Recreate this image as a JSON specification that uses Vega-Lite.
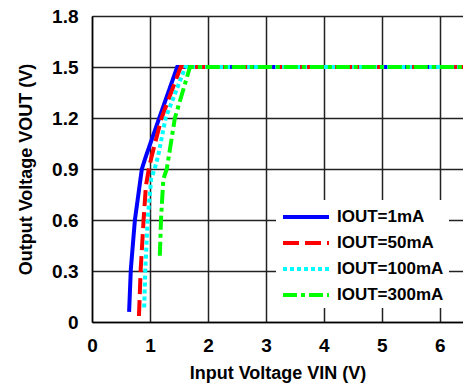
{
  "$schema": "https://vega.github.io/schema/vega-lite/v6.json",
  "width": 371,
  "height": 306,
  "autosize": {"type": "none"},
  "padding": {"left": 92, "top": 16, "right": 0, "bottom": 65},
  "background": "white",
  "config": {
    "view": {"stroke": null},
    "font": "Liberation Sans",
    "axis": {
      "labelFont": "Liberation Sans", "labelFontWeight": "bold", "labelFontSize": 19, "labelColor": "black",
      "titleFont": "Liberation Sans", "titleFontWeight": "bold", "titleFontSize": 18, "titleColor": "black",
      "grid": true, "gridColor": "#222", "gridWidth": 1.5, "gridOpacity": 1,
      "domainColor": "black", "domainWidth": 1.5, "ticks": false
    }
  },
  "data": {
    "values": [
      {"vin": 0.64, "vout": 0.06, "s": "IOUT=1mA"},
      {"vin": 0.67, "vout": 0.31, "s": "IOUT=1mA"},
      {"vin": 0.74, "vout": 0.60, "s": "IOUT=1mA"},
      {"vin": 0.82, "vout": 0.80, "s": "IOUT=1mA"},
      {"vin": 0.86, "vout": 0.90, "s": "IOUT=1mA"},
      {"vin": 0.93, "vout": 0.975, "s": "IOUT=1mA"},
      {"vin": 1.16, "vout": 1.20, "s": "IOUT=1mA"},
      {"vin": 1.47, "vout": 1.50, "s": "IOUT=1mA"},
      {"vin": 6.4, "vout": 1.50, "s": "IOUT=1mA"},
      {"vin": 0.81, "vout": 0.035, "s": "IOUT=50mA"},
      {"vin": 0.84, "vout": 0.31, "s": "IOUT=50mA"},
      {"vin": 0.89, "vout": 0.60, "s": "IOUT=50mA"},
      {"vin": 0.93, "vout": 0.80, "s": "IOUT=50mA"},
      {"vin": 0.98, "vout": 0.90, "s": "IOUT=50mA"},
      {"vin": 1.03, "vout": 0.975, "s": "IOUT=50mA"},
      {"vin": 1.20, "vout": 1.20, "s": "IOUT=50mA"},
      {"vin": 1.53, "vout": 1.50, "s": "IOUT=50mA"},
      {"vin": 6.4, "vout": 1.50, "s": "IOUT=50mA"},
      {"vin": 0.90, "vout": 0.085, "s": "IOUT=100mA"},
      {"vin": 0.92, "vout": 0.31, "s": "IOUT=100mA"},
      {"vin": 0.96, "vout": 0.60, "s": "IOUT=100mA"},
      {"vin": 1.02, "vout": 0.84, "s": "IOUT=100mA"},
      {"vin": 1.08, "vout": 0.90, "s": "IOUT=100mA"},
      {"vin": 1.14, "vout": 0.975, "s": "IOUT=100mA"},
      {"vin": 1.27, "vout": 1.20, "s": "IOUT=100mA"},
      {"vin": 1.61, "vout": 1.50, "s": "IOUT=100mA"},
      {"vin": 6.4, "vout": 1.50, "s": "IOUT=100mA"},
      {"vin": 1.17, "vout": 0.39, "s": "IOUT=300mA"},
      {"vin": 1.19, "vout": 0.60, "s": "IOUT=300mA"},
      {"vin": 1.23, "vout": 0.84, "s": "IOUT=300mA"},
      {"vin": 1.29, "vout": 0.90, "s": "IOUT=300mA"},
      {"vin": 1.43, "vout": 1.20, "s": "IOUT=300mA"},
      {"vin": 1.69, "vout": 1.50, "s": "IOUT=300mA"},
      {"vin": 6.4, "vout": 1.50, "s": "IOUT=300mA"}
    ]
  },
  "mark": {"type": "line", "strokeWidth": 4, "clip": true},
  "encoding": {
    "x": {
      "field": "vin", "type": "quantitative",
      "scale": {"domain": [0, 6.4], "nice": false},
      "axis": {"values": [0, 1, 2, 3, 4, 5, 6], "format": "d", "labelPadding": 14, "title": "Input Voltage VIN (V)", "titlePadding": 9, "labelFlush": false}
    },
    "y": {
      "field": "vout", "type": "quantitative",
      "scale": {"domain": [0, 1.8], "nice": false},
      "axis": {"values": [0, 0.3, 0.6, 0.9, 1.2, 1.5, 1.8], "labelExpr": "datum.value == 0 ? '0' : format(datum.value, '.1f')", "labelPadding": 14, "title": "Output Voltage VOUT (V)", "titlePadding": 16, "labelFlush": false}
    },
    "color": {
      "field": "s", "type": "nominal",
      "scale": {"domain": ["IOUT=1mA", "IOUT=50mA", "IOUT=100mA", "IOUT=300mA"], "range": ["#0000FF", "#FF0000", "#00FFFF", "#00FF00"]},
      "legend": {
        "orient": "none", "legendX": 184, "legendY": 184, "title": null,
        "fillColor": "white", "padding": 5,
        "symbolType": "M-1,0H3.6", "symbolSize": 400, "symbolStrokeWidth": 4,
        "labelFont": "Liberation Sans", "labelFontWeight": "bold", "labelFontSize": 17, "labelColor": "black",
        "labelOffset": 32, "rowPadding": 6, "labelLimit": 200
      }
    },
    "strokeDash": {
      "field": "s", "type": "nominal",
      "scale": {"domain": ["IOUT=1mA", "IOUT=50mA", "IOUT=100mA", "IOUT=300mA"], "range": [[1, 0], [16, 6], [4, 3], [14, 4, 4, 4]]},
      "legend": null
    },
    "order": {"field": "s"}
  }
}
